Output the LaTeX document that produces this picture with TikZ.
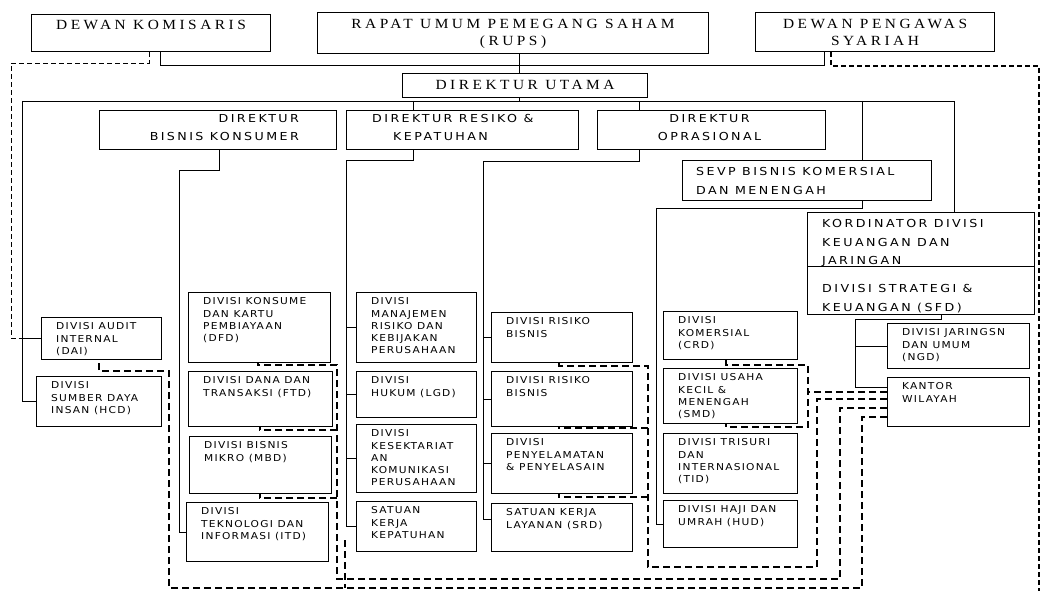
\documentclass[tikz,border=0pt]{standalone}
\usepackage{fontspec}
\usetikzlibrary{calc}
\newfontfamily\toprm[FakeStretch=1.1, LetterSpace=25]{Liberation Serif}
\newfontfamily\headsf[FakeStretch=1.15, LetterSpace=22]{DejaVu Sans}
\newfontfamily\divsf[FakeStretch=1.12, LetterSpace=13]{DejaVu Sans}
\tikzset{
  box/.style={draw, line width=1.1pt, inner sep=0pt, anchor=north west},
  toplbl/.style={font=\toprm\fontsize{14}{17}\selectfont, align=center,
    inner sep=0pt, anchor=north},
  headlbl/.style={font=\headsf\fontsize{11}{18.5}\selectfont, inner sep=0pt},
  divlbl/.style={font=\divsf\fontsize{9.5}{12.3}\selectfont, align=left,
    inner sep=0pt, anchor=north west},
  link/.style={line width=0.8pt},
  kdash/.style={line width=0.9pt, dash pattern=on 5pt off 3pt},
  sdash/.style={line width=1.4pt, dash pattern=on 5pt off 3pt},
  wdash/.style={line width=2pt, dash pattern=on 7pt off 4pt},
}

\begin{document}
\begin{tikzpicture}[x=1pt, y=-1pt]
        \path[fill=white] (0,0) rectangle (1043,591);
        \useasboundingbox (0,0) rectangle (1043,591);
        % top level
        \node[box, minimum width=239pt, minimum height=37pt] (dk) at (31,14) {};
        \node[toplbl] (dk-t) at ([shift={(0,6)}]dk.north) {DEWAN KOMISARIS};
        \node[box, minimum width=391pt, minimum height=41pt] (rups) at (317,12) {};
        \node[toplbl] (rups-t) at ([shift={(0,7)}]rups.north) {RAPAT UMUM PEMEGANG SAHAM\\(RUPS)};
        \node[box, minimum width=239pt, minimum height=39pt] (dps) at (755,12) {};
        \node[toplbl] (dps-t) at ([shift={(0,7)}]dps.north) {DEWAN PENGAWAS\\SYARIAH};
        \node[box, minimum width=245pt, minimum height=24pt] (du) at (402,73) {};
        \node[toplbl] (du-t) at ([shift={(0,7)}]du.north) {DIREKTUR UTAMA};
        % directors
        \node[box, minimum width=237pt, minimum height=39pt] (dbk) at (99,110) {};
        \node[headlbl, align=right, anchor=north east] (dbk-t) at ([shift={(-38,4)}]dbk.north east) {DIREKTUR\\BISNIS KONSUMER};
        \node[box, minimum width=232pt, minimum height=39pt] (drk) at (346,110) {};
        \node[headlbl, align=left, anchor=north west] (drk-t) at ([shift={(26,4)}]drk.north west) {DIREKTUR RESIKO \&\\\hspace*{21pt}KEPATUHAN};
        \node[box, minimum width=228pt, minimum height=39pt] (do) at (597,110) {};
        \node[headlbl, align=center, anchor=north] (do-t) at ([shift={(-2,4)}]do.north) {DIREKTUR\\OPRASIONAL};
        \node[box, minimum width=249pt, minimum height=40pt] (sevp) at (682,160) {};
        \node[headlbl, align=left, anchor=north west] (sevp-t) at ([shift={(14,7.5)}]sevp.north west) {SEVP BISNIS KOMERSIAL\\DAN MENENGAH};
        \node[box, minimum width=227pt, minimum height=54pt] (kord) at (807,212) {};
        \node[headlbl, align=left, anchor=north west] (kord-t) at ([shift={(15,7.5)}]kord.north west) {KORDINATOR DIVISI\\KEUANGAN DAN\\JARINGAN};
        \node[box, minimum width=227pt, minimum height=48pt] (sfd) at (807,266) {};
        \node[headlbl, align=left, anchor=north west] (sfd-t) at ([shift={(15,18.5)}]sfd.north west) {DIVISI STRATEGI \&\\KEUANGAN (SFD)};
        % divisions
        \foreach \n/\x/\y/\w/\h/\txt in {
          dai/41/317/120/42/{DIVISI AUDIT\\INTERNAL\\(DAI)},
          hcd/36/376/125/50/{DIVISI\\SUMBER DAYA\\INSAN (HCD)},
          dfd/188/292/142/70/{DIVISI KONSUME\\DAN KARTU\\PEMBIAYAAN\\(DFD)},
          ftd/188/371/144/55/{DIVISI DANA DAN\\TRANSAKSI (FTD)},
          mbd/189/436/142/57/{DIVISI BISNIS\\MIKRO (MBD)},
          itd/186/502/142/59/{DIVISI\\TEKNOLOGI DAN\\INFORMASI (ITD)},
          mrk/356/292/120/70/{DIVISI\\MANAJEMEN\\RISIKO DAN\\KEBIJAKAN\\PERUSAHAAN},
          lgd/356/371/120/46/{DIVISI\\HUKUM (LGD)},
          kkp/356/424/120/68/{DIVISI\\KESEKTARIAT\\AN\\KOMUNIKASI\\PERUSAHAAN},
          skk/356/501/120/50/{SATUAN\\KERJA\\KEPATUHAN},
          rb1/491/312/141/50/{DIVISI RISIKO\\BISNIS},
          rb2/491/371/141/55/{DIVISI RISIKO\\BISNIS},
          pp/491/433/141/60/{DIVISI\\PENYELAMATAN\\\& PENYELASAIN},
          srd/491/503/141/48/{SATUAN KERJA\\LAYANAN (SRD)},
          crd/663/311/134/48/{DIVISI\\KOMERSIAL\\(CRD)},
          smd/663/368/134/55/{DIVISI USAHA\\KECIL \&\\MENENGAH\\(SMD)},
          tid/663/433/134/60/{DIVISI TRISURI\\DAN\\INTERNASIONAL\\(TID)},
          hud/663/500/134/47/{DIVISI HAJI DAN\\UMRAH (HUD)},
          ngd/887/323/142/45/{DIVISI JARINGSN\\DAN UMUM\\(NGD)},
          kw/887/377/142/49/{KANTOR\\WILAYAH}}{
          \node[box, minimum width=\w pt, minimum height=\h pt] (\n) at (\x,\y) {};
          \node[divlbl] (\n-t) at ([shift={(15,5.5)}]\n.north west) {\txt};
        }
        % solid lines
        \coordinate (bus-l) at (22,101);
        \coordinate (bus-r) at (954,101);
        \coordinate (kw-in) at ([yshift=15pt]kw.west);
        \draw[link] (dk.south -| 160,0) -- ++(0,13) -| (dps.south -| 824,0);
        \draw[link] (rups.south -| 519,0) -- (du.north -| 519,0);
        \draw[link] (du.south -| 519,0) -- (bus-l -| 519,0);
        \draw[link] (bus-l) -- (bus-r) -- (kord.north -| bus-r);
        \foreach \bx/\nd in {413/drk, 639/do, 862/sevp}
          \draw[link] (bus-l -| \bx,0) -- (\nd.north -| \bx,0);
        \draw[link] (bus-l) |- (hcd.west);
        \draw[link] (bus-l |- dai.west) -- (dai.west);
        \draw[link] (dbk.south -| 219,0) -- ++(0,20) -| (itd.west -| 179,0) -- (itd.west);
        \draw[link] (drk.south -| 413,0) -- ++(0,10) -| (skk.west -| 346,0) -- (skk.west);
        \foreach \nd in {mrk,lgd,kkp}
          \draw[link] (\nd.west -| 346,0) -- (\nd.west);
        \draw[link] (do.south -| 639,0) -- ++(0,11) -| ([yshift=8pt]srd.west -| 483,0) -- ([yshift=8pt]srd.west);
        \foreach \nd in {rb1,rb2,pp}
          \draw[link] (\nd.west -| 483,0) -- (\nd.west);
        \draw[link] (sevp.south -| 862,0) -- ++(0,7) -| (hud.west -| 656,0) -- (hud.west);
        \draw[link] (sfd.south -| 941,0) -- ++(0,4) -| (kw-in -| 855,0) -- (kw-in);
        \draw[link] (ngd.west -| 855,0) -- (ngd.west);
        % dashed lines
        \draw[kdash] (dk.south -| 149,0) |- (11,63) |- (bus-l |- dai.west);
        \draw[sdash] (dps.south -| 831,0) |- (1039,66) -- (1039,591);
        \draw[wdash] (crd.south -| 726,0) |- (808,365) -- (808,427) -| (smd.south -| 726,0);
        \draw[wdash] (kw.west |- 0,392) -- (808,392);
        \draw[wdash] (kw.west |- 0,399) -| (817,567) -| (648,366) -| (rb1.south -| 559,0);
        \draw[wdash] (648,428) -| (rb2.south -| 559,0);
        \draw[wdash] (648,497) -| (pp.south -| 559,0);
        \draw[wdash] (kw.west |- 0,408) -| (840,579) -| (337,365) -| (dfd.south -| 258,0);
        \draw[wdash] (337,430) -| (ftd.south -| 260,0);
        \draw[wdash] (337,498) -| (mbd.south -| 260,0);
        \draw[wdash] (kw.west |- 0,417) -| (862,588) -| (169,371) -| (dai.south -| 99,0);
        \draw[wdash] (345,540) -- (345,588);
      \end{tikzpicture}
\end{document}
